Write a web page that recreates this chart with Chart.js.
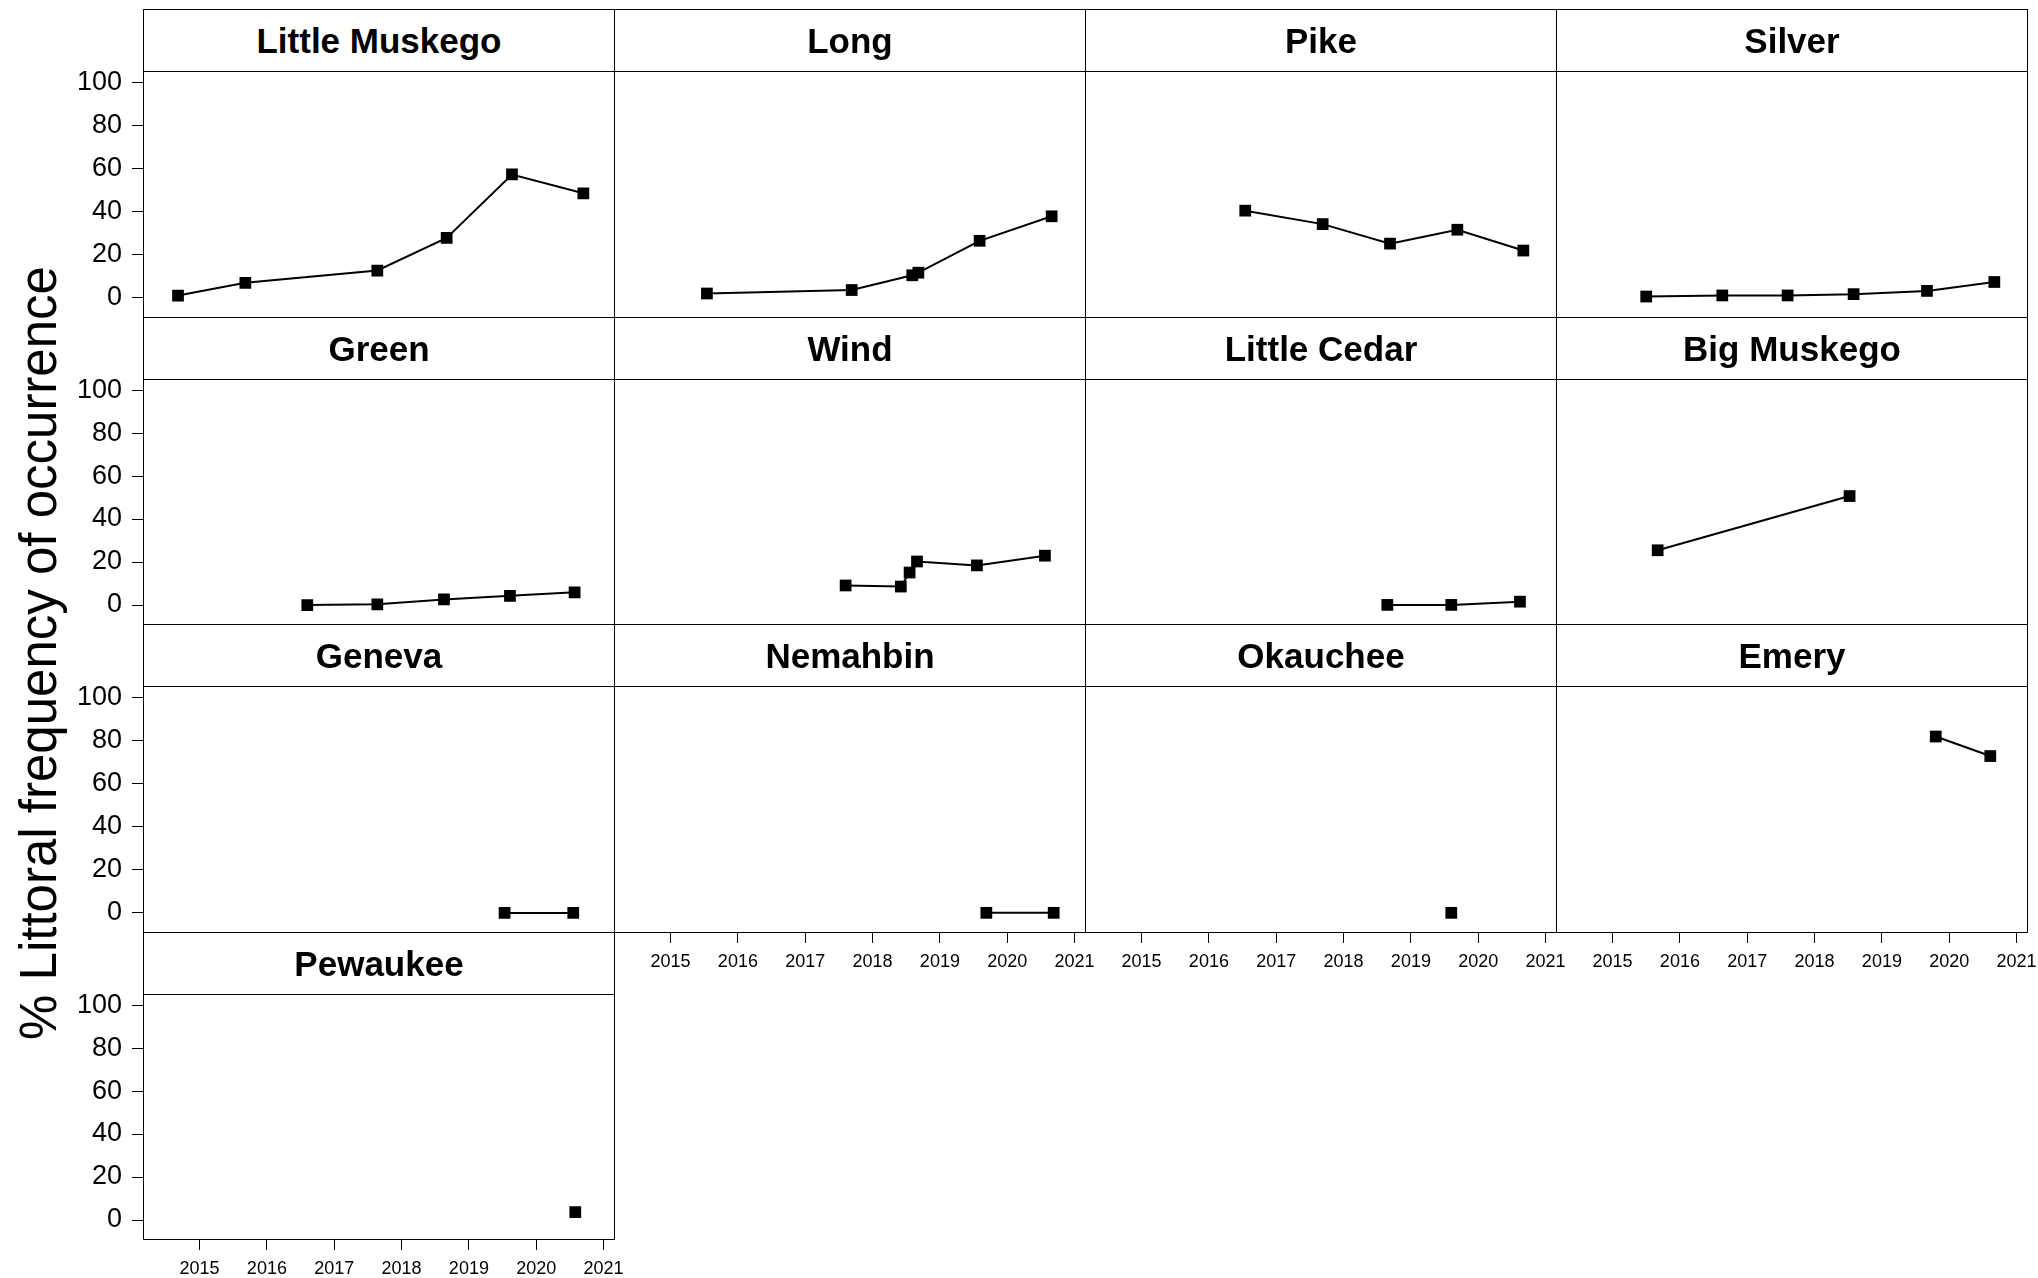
<!DOCTYPE html>
<html><head><meta charset="utf-8">
<script src="https://cdn.jsdelivr.net/npm/chart.js@4.4.0/dist/chart.umd.min.js"></script>
<style>
html,body{margin:0;padding:0;background:#fff;width:2038px;height:1278px;overflow:hidden;}
#root{position:relative;width:2038px;height:1278px;font-family:"Liberation Sans",Arial,sans-serif;}
.strip{position:absolute;box-sizing:border-box;border:1px solid #000;display:flex;align-items:center;justify-content:center;font-weight:bold;font-size:35px;color:#000;white-space:nowrap;}
canvas{position:absolute;}
#ytitle{position:absolute;left:-361px;top:623px;width:800px;height:60px;line-height:60px;text-align:center;font-size:51px;color:#000;transform:rotate(-90deg);transform-origin:50% 50%;white-space:nowrap;}
</style></head><body><div id="root"><div id="ytitle">% Littoral frequency of occurrence</div></div>
<script>
// ---- data ----
const lakeNames = ["Little Muskego","Long","Pike","Silver","Green","Wind","Little Cedar","Big Muskego","Geneva","Nemahbin","Okauchee","Emery","Pewaukee"];
const yearsLittleMuskego = [2014.68, 2015.68, 2017.64, 2018.67, 2019.64, 2020.70];
const valuesLittleMuskego = [1.1, 7.0, 12.7, 27.8, 57.2, 48.5];
const yearsLong = [2015.54, 2017.69, 2018.59, 2018.68, 2019.59, 2020.66];
const valuesLong = [2.0, 3.6, 10.4, 11.6, 26.3, 37.6];
const yearsPike = [2016.54, 2017.69, 2018.69, 2019.69, 2020.67];
const valuesPike = [40.2, 34.0, 25.0, 31.4, 21.8];
const yearsSilver = [2015.50, 2016.63, 2017.60, 2018.58, 2019.67, 2020.67];
const valuesSilver = [0.6, 1.1, 1.1, 1.7, 3.2, 7.3];
const yearsGreen = [2016.60, 2017.64, 2018.63, 2019.61, 2020.57];
const valuesGreen = [0.0, 0.3, 2.6, 4.3, 5.9];
const yearsWind = [2017.60, 2018.42, 2018.55, 2018.66, 2019.55, 2020.56];
const valuesWind = [9.0, 8.5, 15.0, 20.1, 18.3, 22.8];
const yearsLittleCedar = [2018.65, 2019.60, 2020.62];
const valuesLittleCedar = [0.0, 0.0, 1.5];
const yearsBigMuskego = [2015.67, 2018.52];
const valuesBigMuskego = [25.3, 50.4];
const yearsGeneva = [2019.53, 2020.55];
const valuesGeneva = [0.0, 0.0];
const yearsNemahbin = [2019.69, 2020.69];
const valuesNemahbin = [0.0, 0.0];
const yearsOkauchee = [2019.60];
const valuesOkauchee = [0.0];
const yearsEmery = [2019.80, 2020.61];
const valuesEmery = [81.3, 72.3];
const yearsPewaukee = [2020.58];
const valuesPewaukee = [3.7];
const xTickYears = [2015, 2016, 2017, 2018, 2019, 2020, 2021];
const yTickValues = [0, 20, 40, 60, 80, 100];

const seriesYears = [yearsLittleMuskego, yearsLong, yearsPike, yearsSilver, yearsGreen, yearsWind, yearsLittleCedar, yearsBigMuskego, yearsGeneva, yearsNemahbin, yearsOkauchee, yearsEmery, yearsPewaukee];
const seriesValues = [valuesLittleMuskego, valuesLong, valuesPike, valuesSilver, valuesGreen, valuesWind, valuesLittleCedar, valuesBigMuskego, valuesGeneva, valuesNemahbin, valuesOkauchee, valuesEmery, valuesPewaukee];

// ---- layout ----
const X_MIN = 2014.16, X_MAX = 2021.17;
const Y_MIN = -9.3, Y_MAX = 104.6;
const NCOL = 4;
const COL_L = [143, 614, 1085, 1556];
const COL_R = [614, 1085, 1556, 2027];
const ROW0 = 9, ROW_PITCH = 307.6, STRIP_H = 62;
const AX_W = 90, AX_H = 55, PAD_R = 25, PAD_T = 25;

Chart.defaults.font.family = '"Liberation Sans", Arial, sans-serif';

const framePlugin = {
  id: 'frame',
  afterDatasetsDraw(chart) {
    const {ctx, chartArea: a} = chart;
    const l = Math.round(a.left) + 0.5, r = Math.round(a.right) - 0.5;
    const t = Math.round(a.top), b = Math.round(a.bottom) - 0.5;
    ctx.save();
    ctx.strokeStyle = '#000';
    ctx.lineWidth = 1;
    ctx.beginPath();
    ctx.moveTo(l, t); ctx.lineTo(l, b); ctx.lineTo(r, b); ctx.lineTo(r, t);
    ctx.stroke();
    ctx.restore();
  }
};

const root = document.getElementById('root');
const n = lakeNames.length;
for (let i = 0; i < n; i++) {
  const r = Math.floor(i / NCOL), c = i % NCOL;
  const stripTop = Math.round(ROW0 + r * ROW_PITCH);
  const stripBot = stripTop + STRIP_H;
  const plotBot = Math.round(ROW0 + (r + 1) * ROW_PITCH);
  const left = COL_L[c], right = COL_R[c];
  const showY = c === 0;
  const showX = (i + NCOL) >= n;

  const strip = document.createElement('div');
  strip.className = 'strip';
  strip.style.left = left + 'px';
  strip.style.top = stripTop + 'px';
  strip.style.width = (right - left + 1) + 'px';
  strip.style.height = (stripBot - stripTop + 1) + 'px';
  strip.textContent = lakeNames[i];
  root.appendChild(strip);

  const cv = document.createElement('canvas');
  const W = AX_W + (right - left + 1) + PAD_R;
  const H = PAD_T + (plotBot - stripBot + 1) + AX_H;
  cv.width = W; cv.height = H;
  cv.style.width = W + 'px'; cv.style.height = H + 'px';
  cv.style.left = (left - AX_W) + 'px';
  cv.style.top = (stripBot - PAD_T) + 'px';
  root.appendChild(cv);

  const pts = seriesYears[i].map((yr, k) => ({x: yr, y: seriesValues[i][k]}));

  new Chart(cv, {
    type: 'line',
    data: { datasets: [{
      data: pts,
      borderColor: '#000', borderWidth: 2,
      pointStyle: 'rect', pointRadius: 8.3, pointHoverRadius: 8.3,
      pointBackgroundColor: '#000', pointBorderColor: '#000', pointBorderWidth: 0,
      tension: 0, fill: false
    }]},
    options: {
      responsive: false, animation: false, devicePixelRatio: 1,
      layout: { padding: { left: 0, right: PAD_R, top: PAD_T, bottom: 0 } },
      plugins: { legend: { display: false }, tooltip: { enabled: false } },
      events: [],
      scales: {
        x: {
          type: 'linear', min: X_MIN, max: X_MAX,
          afterBuildTicks: s => { s.ticks = xTickYears.map(v => ({value: v})); },
          afterFit: s => { s.height = AX_H; },
          grid: { display: showX, drawOnChartArea: false, drawTicks: true, tickLength: 10, color: '#000', lineWidth: 1 },
          border: { display: false },
          ticks: { display: showX, color: '#000', font: { size: 18 }, padding: 8, maxRotation: 0, autoSkip: false, callback: v => String(v) }
        },
        y: {
          type: 'linear', min: Y_MIN, max: Y_MAX,
          afterBuildTicks: s => { s.ticks = yTickValues.map(v => ({value: v})); },
          afterFit: s => { s.width = AX_W; },
          grid: { display: showY, drawOnChartArea: false, drawTicks: true, tickLength: 11, color: '#000', lineWidth: 1 },
          border: { display: false },
          ticks: { display: showY, color: '#000', font: { size: 27, family: '"Liberation Sans Narrow", "Liberation Sans", Arial, sans-serif' }, padding: 10, autoSkip: false, callback: v => String(v) }
        }
      }
    },
    plugins: [framePlugin]
  });
}
</script></body></html>
